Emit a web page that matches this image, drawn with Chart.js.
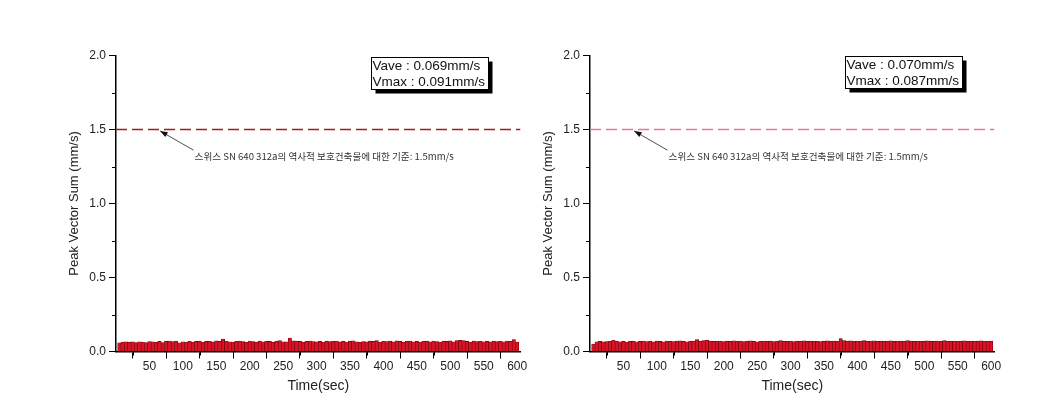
<!DOCTYPE html>
<html>
<head>
    <title>Peak Vector Sum</title>
    <script src="https://cdn.jsdelivr.net/npm/chart.js"></script>
    <style>
        body { margin: 0; background: #fff; }
        .wrap { position: relative; width: 1064px; height: 411px; }
        .wrap canvas { position: absolute; top: 0; }
    </style>
</head>
<body>
<div class="wrap">
    <canvas id="chartLeft" width="532" height="411" style="left:0px"></canvas>
    <canvas id="chartRight" width="532" height="411" style="left:474px"></canvas>
</div>

<script>
// time axis, one bar every 5 sec
const times = [];
for (let t = 5; t <= 600; t += 5) times.push(t);

const xTicks = [50, 100, 150, 200, 250, 300, 350, 400, 450, 500, 550, 600];
const yTicks = [0.0, 0.5, 1.0, 1.5, 2.0];
const limitValue = 1.5;

const leftValues = [
    0.058,0.064,0.066,0.063,0.065,0.061,0.066,0.064,0.060,0.067,
    0.066,0.062,0.068,0.060,0.070,0.071,0.067,0.071,0.059,0.066,
    0.064,0.069,0.063,0.068,0.070,0.064,0.068,0.069,0.065,0.072,
    0.068,0.084,0.071,0.066,0.064,0.069,0.071,0.067,0.062,0.071,
    0.067,0.063,0.070,0.066,0.069,0.068,0.063,0.069,0.073,0.066,
    0.065,0.091,0.072,0.070,0.068,0.063,0.069,0.071,0.067,0.065,
    0.068,0.064,0.070,0.067,0.069,0.071,0.066,0.068,0.064,0.070,
    0.072,0.066,0.062,0.067,0.065,0.070,0.068,0.073,0.064,0.069,
    0.067,0.070,0.065,0.072,0.068,0.063,0.069,0.071,0.066,0.068,
    0.064,0.069,0.070,0.066,0.071,0.067,0.064,0.070,0.068,0.072,
    0.066,0.074,0.075,0.073,0.068,0.064,0.070,0.067,0.069,0.066,
    0.068,0.065,0.070,0.067,0.069,0.066,0.071,0.068,0.080,0.064
];

const rightValues = [
    0.050,0.066,0.068,0.065,0.067,0.069,0.078,0.070,0.066,0.068,
    0.064,0.069,0.070,0.066,0.068,0.071,0.067,0.069,0.065,0.070,
    0.068,0.066,0.071,0.069,0.067,0.070,0.072,0.068,0.066,0.070,
    0.069,0.080,0.071,0.074,0.077,0.070,0.068,0.071,0.069,0.067,
    0.070,0.068,0.072,0.069,0.071,0.067,0.070,0.072,0.068,0.066,
    0.069,0.071,0.068,0.070,0.067,0.069,0.073,0.070,0.068,0.071,
    0.067,0.070,0.069,0.072,0.068,0.070,0.071,0.069,0.067,0.070,
    0.072,0.068,0.071,0.069,0.087,0.073,0.070,0.072,0.069,0.071,
    0.070,0.073,0.069,0.071,0.072,0.068,0.070,0.071,0.069,0.072,
    0.068,0.071,0.070,0.069,0.073,0.070,0.068,0.071,0.069,0.070,
    0.072,0.068,0.070,0.071,0.069,0.073,0.070,0.068,0.071,0.069,
    0.070,0.072,0.068,0.071,0.069,0.070,0.072,0.069,0.071,0.070
];

const leftStats = ['Vave : 0.069mm/s', 'Vmax : 0.091mm/s'];
const rightStats = ['Vave : 0.070mm/s', 'Vmax : 0.087mm/s'];
const noteText = '스위스 SN 640 312a의 역사적 보호건축물에 대한 기준: 1.5mm/s';

Chart.defaults.font.family = '"Liberation Sans", Arial, sans-serif';
Chart.defaults.color = '#222';

// minor ticks, stats box, arrow note
const extras = {
    id: 'extras',
    afterDraw(chart, args, opts) {
        const ctx = chart.ctx;
        const x = chart.scales.x, y = chart.scales.y;
        const area = chart.chartArea;
        ctx.save();

        // minor ticks
        ctx.strokeStyle = '#000';
        ctx.lineWidth = 1;
        ctx.beginPath();
        for (let v = 25; v < 600; v += 50) {
            const px = Math.round(x.getPixelForValue(v)) + 0.5;
            ctx.moveTo(px, area.bottom);
            ctx.lineTo(px, area.bottom + 4);
        }
        for (let v = 0.25; v < 2; v += 0.5) {
            const py = Math.round(y.getPixelForValue(v)) + 0.5;
            ctx.moveTo(area.left, py);
            ctx.lineTo(area.left - 4, py);
        }
        ctx.stroke();

        // stats box with shadow
        const bw = 117, bh = 32;
        const bx = Math.round(area.right - 33 - bw) + 0.5;
        const by = Math.round(area.top + opts.boxTop) + 0.5;
        ctx.fillStyle = '#000';
        ctx.fillRect(bx + 4, by + 4, bw, bh);
        ctx.fillStyle = '#fff';
        ctx.fillRect(bx, by, bw, bh);
        ctx.strokeStyle = '#000';
        ctx.strokeRect(bx, by, bw, bh);
        ctx.fillStyle = '#111';
        ctx.font = '13.5px "Liberation Sans", Arial, sans-serif';
        ctx.textBaseline = 'middle';
        ctx.textAlign = 'left';
        ctx.fillText(opts.stats[0], bx + 1, by + 8.5);
        ctx.fillText(opts.stats[1], bx + 1, by + 25);

        // arrow + note
        const tipX = x.getPixelForValue(opts.tip[0]), tipY = y.getPixelForValue(opts.tip[1]);
        const tailX = x.getPixelForValue(opts.tail[0]), tailY = y.getPixelForValue(opts.tail[1]);
        ctx.strokeStyle = '#222';
        ctx.lineWidth = 0.8;
        ctx.beginPath();
        ctx.moveTo(tailX, tailY);
        ctx.lineTo(tipX, tipY);
        ctx.stroke();
        const ang = Math.atan2(tipY - tailY, tipX - tailX);
        ctx.fillStyle = '#111';
        ctx.beginPath();
        ctx.moveTo(tipX, tipY);
        ctx.lineTo(tipX - 8 * Math.cos(ang - 0.35), tipY - 8 * Math.sin(ang - 0.35));
        ctx.lineTo(tipX - 8 * Math.cos(ang + 0.35), tipY - 8 * Math.sin(ang + 0.35));
        ctx.closePath();
        ctx.fill();

        ctx.font = '9.6px "Noto Sans CJK KR", sans-serif';
        ctx.fillStyle = '#333';
        ctx.textBaseline = 'middle';
        ctx.fillText(noteText, tailX + 1, tailY + 6);
        ctx.restore();
    }
};

function makeChart(id, values, lineColor, stats, boxTop) {
    const ctx = document.getElementById(id).getContext('2d');
    return new Chart(ctx, {
        type: 'bar',
        data: {
            datasets: [{
                type: 'line',
                data: [{x: 0, y: limitValue}, {x: 605, y: limitValue}],
                borderColor: lineColor,
                borderWidth: 1.3,
                borderDash: [11, 5],
                pointRadius: 0,
                order: 0
            }, {
                type: 'bar',
                data: times.map((t, i) => ({x: t, y: values[i]})),
                backgroundColor: 'rgb(218,18,38)',
                borderColor: 'rgb(105,0,12)',
                borderWidth: 0.6,
                barPercentage: 1,
                categoryPercentage: 1,
                grouped: false,
                order: 1
            }]
        },
        options: {
            responsive: false,
            animation: false,
            events: [],
            layout: { padding: { left: 60, top: 55.5, right: 11.5, bottom: 0 } },
            plugins: {
                legend: { display: false },
                tooltip: { enabled: false },
                extras: { stats: stats, boxTop: boxTop, tip: [66, 1.49], tail: [116, 1.36] }
            },
            scales: {
                x: {
                    type: 'linear',
                    min: 0,
                    max: 605,
                    offset: false,
                    afterBuildTicks: s => { s.ticks = [0].concat(xTicks).map(v => ({value: v})); },
                    ticks: {
                        font: { size: 12 },
                        padding: 1,
                        maxRotation: 0,
                        callback: v => v === 0 ? '' : String(v)
                    },
                    grid: {
                        drawOnChartArea: false,
                        tickLength: 7,
                        color: c => (c.tick && c.tick.value === 0) ? 'rgba(0,0,0,0)' : '#000'
                    },
                    border: { color: '#000', width: 1.5 },
                    title: { display: true, text: 'Time(sec)', font: { size: 14 }, color: '#222', padding: { top: 0, bottom: 16 } },
                    afterFit: s => { s.height = 59.5; }
                },
                y: {
                    min: 0,
                    max: 2,
                    afterBuildTicks: s => { s.ticks = yTicks.map(v => ({value: v})); },
                    ticks: { font: { size: 12 }, padding: 3, callback: v => v.toFixed(1) },
                    grid: { drawOnChartArea: false, tickLength: 7, color: '#000' },
                    border: { color: '#000', width: 1.5 },
                    title: { display: true, text: 'Peak Vector Sum (mm/s)', font: { size: 13 }, color: '#222', padding: { top: 7, bottom: 0 } },
                    afterFit: s => { s.width = 56; }
                }
            }
        },
        plugins: [extras]
    });
}

makeChart('chartLeft', leftValues, 'rgb(160,30,30)', leftStats, 1.5);
makeChart('chartRight', rightValues, 'rgb(232,120,135)', rightStats, 0.5);
</script>
</body>
</html>
